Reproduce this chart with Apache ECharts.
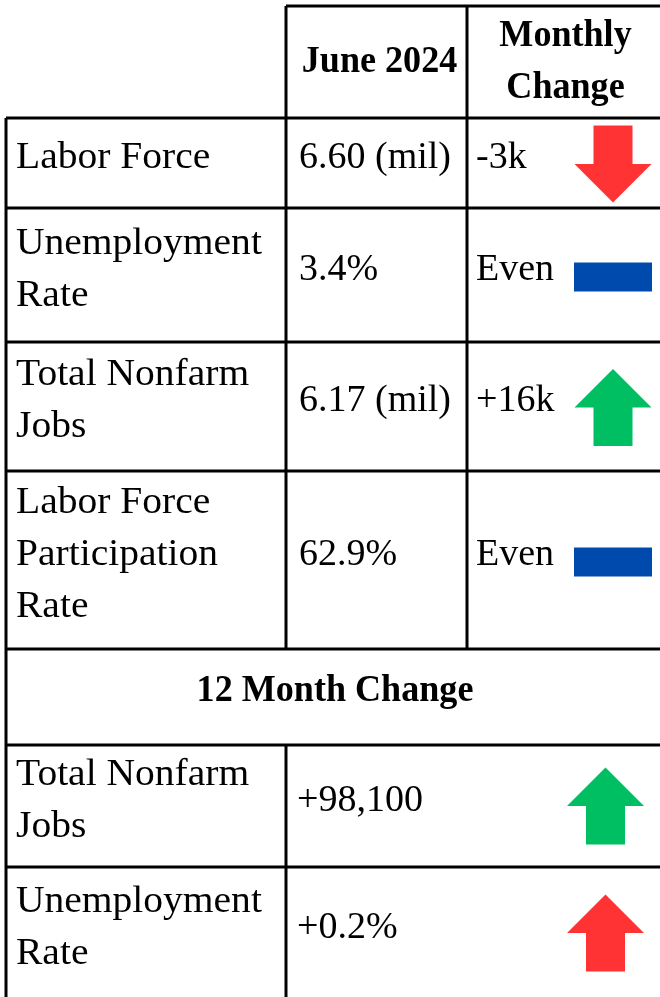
<!DOCTYPE html>
<html>
<head>
<meta charset="utf-8">
<script src="https://cdn.jsdelivr.net/npm/echarts@6/dist/echarts.min.js"></script>
<style>
  html, body { margin: 0; padding: 0; background: #fff; }
  #chart { width: 660px; height: 997px; }
</style>
</head>
<body>
<div id="chart"></div>
<script>
// table content
const headers = ['June 2024', 'Monthly\nChange'];
const rowLabels = ['Labor Force', 'Unemployment\nRate', 'Total Nonfarm\nJobs', 'Labor Force\nParticipation\nRate'];
const juneValues = ['6.60 (mil)', '3.4%', '6.17 (mil)', '62.9%'];
const monthlyChange = ['-3k', 'Even', '+16k', 'Even'];
const monthlyDir = ['down', 'even', 'up', 'even'];
const monthlyTone = ['bad', 'even', 'good', 'even'];
const yearTitle = '12 Month Change';
const yearLabels = ['Total Nonfarm\nJobs', 'Unemployment\nRate'];
const yearChange = ['+98,100', '+0.2%'];
const yearDir = ['up', 'up'];
const yearTone = ['good', 'bad'];

const toneColor = { good: '#00bf63', bad: '#ff3333', even: '#004aad' };

// layout of the grid
const colX = [6, 286, 467, 664];
const headerTop = 6;
const rowY = [118, 208, 342, 471, 649, 745, 867, 999];
const FONT = '"Liberation Serif", "Times New Roman", serif';
const LW = 3;

const chart = echarts.init(document.getElementById('chart'));
const g = [];

function hline(x1, x2, y) {
  g.push({ type: 'line', shape: { x1: x1, y1: y, x2: x2, y2: y }, style: { stroke: '#000', lineWidth: LW } });
}
function vline(x, y1, y2) {
  g.push({ type: 'line', shape: { x1: x, y1: y1, x2: x, y2: y2 }, style: { stroke: '#000', lineWidth: LW } });
}
function text(str, x, y, opts) {
  opts = opts || {};
  g.push({
    type: 'text', x: x, y: y, z: 5,
    scaleX: opts.sx || 1,
    style: {
      text: str, fill: '#000',
      font: (opts.bold ? 'bold ' : '') + '38px ' + FONT,
      align: opts.align || 'left', verticalAlign: 'middle',
      lineHeight: 52
    }
  });
}
function marker(dir, tone, cx, cy) {
  const color = toneColor[tone];
  if (dir === 'even') {
    g.push({ type: 'rect', shape: { x: cx - 39, y: cy - 14.5, width: 78, height: 29 }, style: { fill: color } });
    return;
  }
  const hw = 38.5, sw = 19.5, h = 38.5;
  const s = dir === 'up' ? 1 : -1;
  g.push({
    type: 'polygon',
    shape: { points: [
      [cx, cy - s * h], [cx + hw, cy], [cx + sw, cy], [cx + sw, cy + s * h],
      [cx - sw, cy + s * h], [cx - sw, cy], [cx - hw, cy]
    ] },
    style: { fill: color }
  });
}

// borders
hline(colX[1], colX[3], headerTop);
rowY.slice(0, 7).forEach(function (y) { hline(colX[0], colX[3], y); });
vline(colX[0], rowY[0], rowY[7]);
vline(colX[1], headerTop, rowY[4]);
vline(colX[2], headerTop, rowY[4]);
vline(colX[1], rowY[5], rowY[7]);
vline(colX[3], headerTop, rowY[7]);

// header
const hmid = (headerTop + rowY[0]) / 2;
text(headers[0], (colX[1] + colX[2]) / 2 + 3, hmid, { bold: true, align: 'center', sx: 0.95 });
text(headers[1], (colX[2] + colX[3]) / 2, hmid, { bold: true, align: 'center', sx: 0.95 });

// monthly rows
rowLabels.forEach(function (lab, i) {
  const mid = (rowY[i] + rowY[i + 1]) / 2;
  text(lab, 16, mid - 5, { sx: 1.04 });
  text(juneValues[i], 299, mid - 5);
  text(monthlyChange[i], 476, mid - 5);
  marker(monthlyDir[i], monthlyTone[i], 613, monthlyDir[i] === 'even' ? mid + 2 : mid + 1);
});

// 12 month section
text(yearTitle, (colX[0] + colX[3]) / 2, (rowY[4] + rowY[5]) / 2 - 6, { bold: true, align: 'center', sx: 0.95 });
yearLabels.forEach(function (lab, i) {
  const mid = (rowY[5 + i] + rowY[6 + i]) / 2;
  text(lab, 16, mid - 5, { sx: 1.04 });
  text(yearChange[i], 297, mid - 5);
  marker(yearDir[i], yearTone[i], 605.5, mid);
});

chart.setOption({
  backgroundColor: '#fff',
  animation: false,
  graphic: g
});
</script>
</body>
</html>
